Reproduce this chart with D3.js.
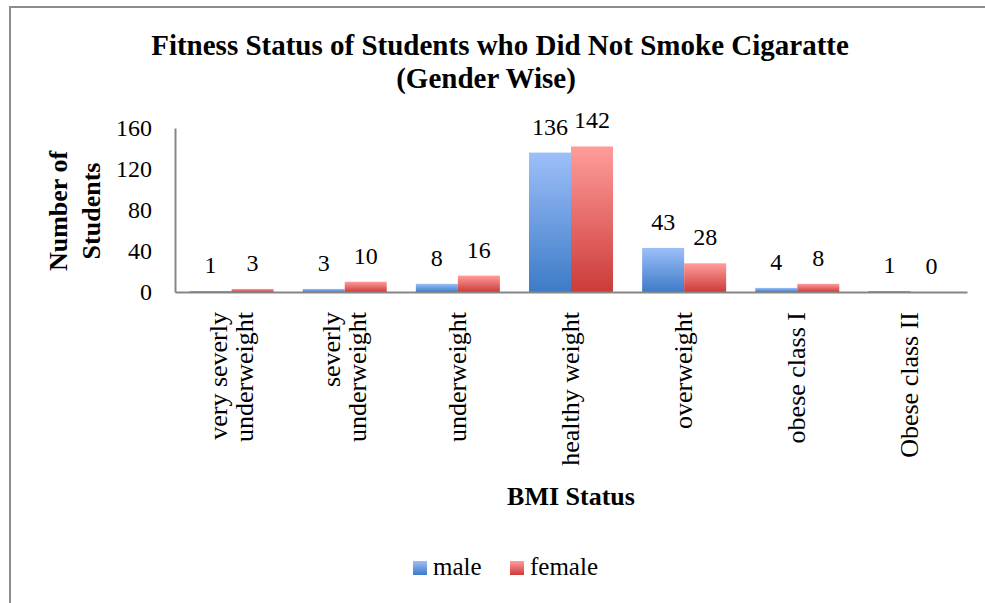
<!DOCTYPE html>
<html>
<head>
<meta charset="utf-8">
<script src="https://cdn.jsdelivr.net/npm/d3@7"></script>
<style>
  body { margin: 0; background: #fff; }
  svg text { font-family: "Liberation Serif", "Times New Roman", serif; fill: #000; }
</style>
</head>
<body>
<svg id="vis" width="985" height="603"></svg>
<script>
// chart data
const categories = ["very severly underweight", "severly underweight", "underweight",
  "healthy weight", "overweight", "obese class I", "Obese class II"];
const series = ["male", "female"];
const male = [1, 3, 8, 136, 43, 4, 1];
const female = [3, 10, 16, 142, 28, 8, 0];
const yTicks = [0, 40, 80, 120, 160];

const colors = {
  male: { top: "#9dbff9", bottom: "#3d7bc7" },
  female: { top: "#ff9d9b", bottom: "#cc3b39" }
};

const svg = d3.select("svg#vis");

// outer frame (only left and top edges show in the picture)
svg.append("path")
  .attr("d", "M10,610 L10,7 L990,7")
  .attr("fill", "none")
  .attr("stroke", "#8c8c8c")
  .attr("stroke-width", 2);

// gradients
const defs = svg.append("defs");
series.forEach(function(s) {
  const grad = defs.append("linearGradient")
    .attr("id", "grad-" + s)
    .attr("x1", 0).attr("y1", 0).attr("x2", 0).attr("y2", 1);
  grad.append("stop").attr("offset", "0%").attr("stop-color", colors[s].top);
  grad.append("stop").attr("offset", "100%").attr("stop-color", colors[s].bottom);
});

const plot = { left: 175, right: 967, top: 128, bottom: 292 };

const x = d3.scaleBand().domain(categories).range([plot.left, plot.right]).padding(0);
const xs = d3.scaleBand().domain(series)
  .range([x.bandwidth() / 2 - 42, x.bandwidth() / 2 + 42]);
const y = d3.scaleLinear().domain([0, 160]).range([plot.bottom, plot.top]);

// title
const title = svg.append("text")
  .attr("text-anchor", "middle")
  .style("font-weight", "bold")
  .style("font-size", "29px");
title.append("tspan").attr("x", 500).attr("y", 55).text("Fitness Status of Students who Did Not Smoke Cigaratte");
title.append("tspan").attr("x", 486).attr("y", 88).text("(Gender Wise)");

// y axis
const yAxis = svg.append("g")
  .attr("transform", `translate(${plot.left},0)`)
  .call(d3.axisLeft(y).tickValues(yTicks).tickSize(0).tickPadding(23));
yAxis.select(".domain").attr("stroke", "#868686").attr("stroke-width", 2);
yAxis.selectAll("text")
  .style("font-family", '"Liberation Serif", serif')
  .style("font-size", "24px");

// x axis line
const xAxis = svg.append("g")
  .attr("transform", `translate(0,${plot.bottom})`)
  .call(d3.axisBottom(x).tickSize(0).tickFormat(""));
xAxis.select(".domain").attr("stroke", "#868686").attr("stroke-width", 2);

// bars
const rows = categories.map((c, i) => ({ cat: c, male: male[i], female: female[i] }));

const groups = svg.append("g").selectAll("g.cat")
  .data(rows)
  .enter()
  .append("g")
  .attr("class", "cat")
  .attr("transform", d => `translate(${x(d.cat)},0)`);

const cells = groups.selectAll("g.cell")
  .data(d => series.map(s => ({ key: s, value: d[s] })))
  .enter()
  .append("g")
  .attr("class", "cell");

cells.append("rect")
  .attr("x", d => xs(d.key))
  .attr("y", d => y(d.value))
  .attr("width", xs.bandwidth())
  .attr("height", d => y(0) - y(d.value))
  .attr("fill", d => `url(#grad-${d.key})`);

cells.append("text")
  .attr("x", d => xs(d.key) + xs.bandwidth() / 2)
  .attr("y", d => y(d.value) - 18)
  .attr("text-anchor", "middle")
  .style("font-size", "24px")
  .text(d => d.value);

// redraw the axis line above the bars
xAxis.raise();

// x category labels, rotated, wrapped like Excel does
const labelTop = 312;
const maxLen = 170;
const labels = svg.append("g").selectAll("text.xlab")
  .data(categories)
  .enter()
  .append("text")
  .attr("class", "xlab")
  .attr("text-anchor", "end")
  .attr("transform", d => `translate(${x(d) + x.bandwidth() / 2},${labelTop}) rotate(-90)`)
  .style("font-size", "26px");

labels.each(function(d) {
  const el = d3.select(this);
  const words = d.split(" ");
  const lines = [];
  let line = [];
  const probe = el.append("tspan");
  words.forEach(function(w) {
    const test = line.concat([w]).join(" ");
    probe.text(test);
    if (line.length && probe.node().getComputedTextLength() > maxLen) {
      lines.push(line.join(" "));
      line = [w];
    } else {
      line.push(w);
    }
  });
  lines.push(line.join(" "));
  probe.remove();
  lines.forEach(function(t, i) {
    el.append("tspan")
      .attr("x", 0)
      .attr("y", (i - (lines.length - 1) / 2) * 26 + 8)
      .text(t);
  });
});

// axis titles
svg.append("text")
  .attr("x", 571)
  .attr("y", 505)
  .attr("text-anchor", "middle")
  .style("font-weight", "bold")
  .style("font-size", "26px")
  .text("BMI Status");

const yTitle = svg.append("text")
  .attr("transform", "translate(76,211) rotate(-90)")
  .attr("text-anchor", "middle")
  .style("font-weight", "bold")
  .style("font-size", "26px");
yTitle.append("tspan").attr("x", 0).attr("y", -9).text("Number of");
yTitle.append("tspan").attr("x", 0).attr("y", 24).text("Students");

// legend
const legendX = { male: 413, female: 510 };
const legend = svg.append("g").selectAll("g.legend")
  .data(series)
  .enter()
  .append("g")
  .attr("class", "legend")
  .attr("transform", d => `translate(${legendX[d]},561)`);

legend.append("rect")
  .attr("width", 14)
  .attr("height", 14)
  .attr("fill", d => `url(#grad-${d})`);

legend.append("text")
  .attr("x", 20)
  .attr("y", 14)
  .style("font-size", "25px")
  .text(d => d);
</script>
</body>
</html>
